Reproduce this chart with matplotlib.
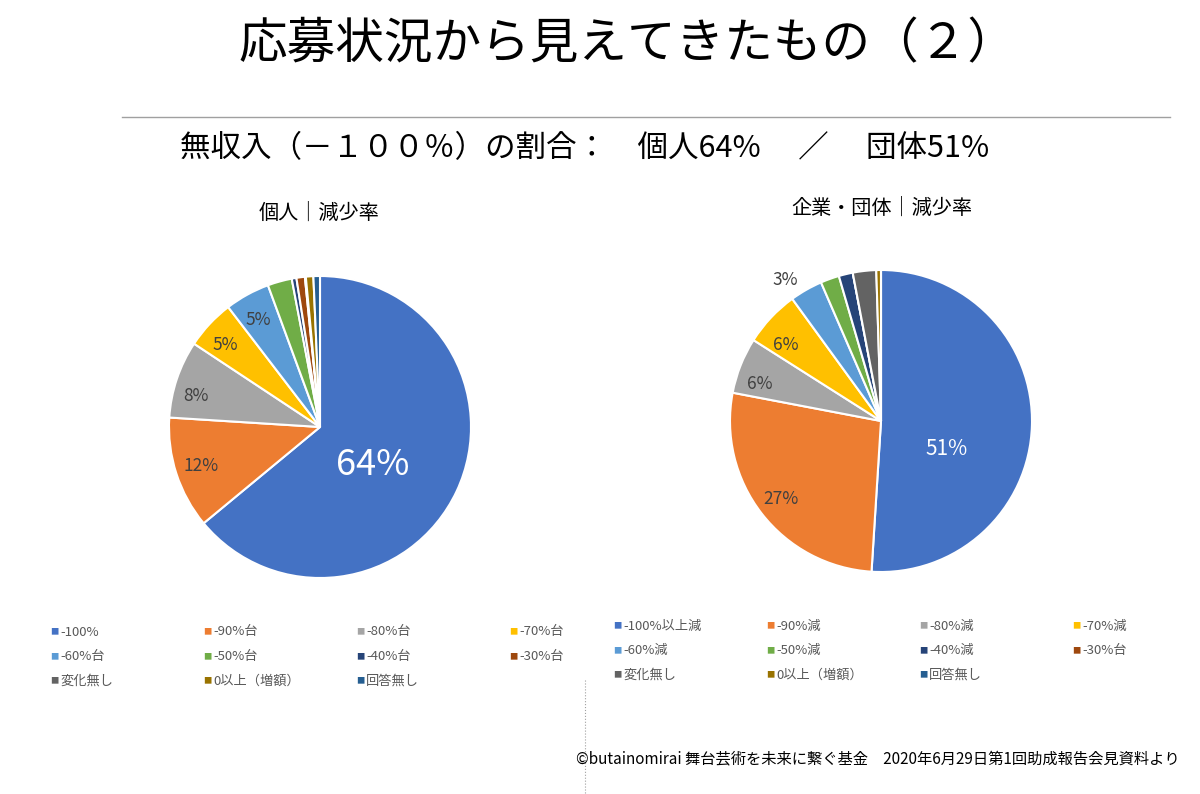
import numpy as np
import matplotlib.pyplot as plt

plt.rcParams["font.family"] = ["Noto Sans CJK JP", "DejaVu Sans"]

colors = ["#4472C4", "#ED7D31", "#A5A5A5", "#FFC000", "#5B9BD5", "#70AD47",
          "#264478", "#9E480E", "#636363", "#997300", "#255E91"]

# 個人
left_labels = ["-100%", "-90%台", "-80%台", "-70%台", "-60%台", "-50%台",
               "-40%台", "-30%台", "変化無し", "0以上（増額）", "回答無し"]
left_values = [64, 12, 8.3, 5.3, 4.8, 2.6, 0.5, 0.9, 0.1, 0.8, 0.7]
left_texts = ["64%", "12%", "8%", "5%", "5%", "", "", "", "", "", ""]

# 企業・団体
right_labels = ["-100%以上減", "-90%減", "-80%減", "-70%減", "-60%減", "-50%減",
                "-40%減", "-30%台", "変化無し", "0以上（増額）", "回答無し"]
right_values = [51, 27, 6, 6, 3.5, 2, 1.5, 0, 2.5, 0.5, 0]
right_texts = ["51%", "27%", "6%", "6%", "3%", "", "", "", "", "", ""]

W, H = 1200, 794
fig = plt.figure(figsize=(12, 7.94), dpi=100)


def fx(x):
    return x / W


def fy(y):
    return 1 - y / H


def draw_pie(cx, cy, r, values, texts, dists, shifts, sizes, tcolors):
    ax = fig.add_axes([fx(cx - 1.3 * r), fy(cy + 1.3 * r), 2.6 * r / W, 2.6 * r / H])
    wedges, _ = ax.pie(values, colors=colors, startangle=90, counterclock=False,
                       wedgeprops=dict(edgecolor="white", linewidth=1.5))
    ax.set_xlim(-1.3, 1.3)
    ax.set_ylim(-1.3, 1.3)
    ax.axis("off")
    for w, t, d, sh, s, c in zip(wedges, texts, dists, shifts, sizes, tcolors):
        if not t:
            continue
        ang = np.deg2rad((w.theta1 + w.theta2) / 2 + sh)
        ax.text(d * np.cos(ang), d * np.sin(ang), t, ha="center", va="center",
                fontsize=s, color=c)


draw_pie(320, 427, 151, left_values, left_texts,
         [0.43, 0.83, 0.85, 0.83, 0.82], [-11, 0, 4.5, 2, 1],
         [26, 12.5, 12.5, 12.5, 12.5],
         ["white", "#404040", "#404040", "#404040", "#404040"])
draw_pie(881, 421, 151, right_values, right_texts,
         [0.47, 0.84, 0.84, 0.81, 1.13], [-21, 0, 4.5, 4.5, 4.5],
         [15, 12.5, 12.5, 12.5, 12.5],
         ["white", "#404040", "#404040", "#404040", "#404040"])

# titles
fig.text(fx(628), fy(45), "応募状況から見えてきたもの（２）", ha="center", va="center",
         fontsize=35, color="black")
fig.add_artist(plt.Line2D([fx(122), fx(1170)], [fy(117), fy(117)],
                          color="#A0A0A0", linewidth=1))
fig.text(fx(585), fy(149), "無収入（－１００％）の割合：　個人64%　 ／　 団体51%",
         ha="center", va="center", fontsize=22, color="black")
fig.text(fx(319), fy(213), "個人｜減少率", ha="center", va="center", fontsize=14.5)
fig.text(fx(882), fy(208), "企業・団体｜減少率", ha="center", va="center", fontsize=14.5)


def draw_legend(x0, y0, labels):
    for i, lab in enumerate(labels):
        col = i % 4
        row = i // 4
        x = x0 + col * 153
        y = y0 + row * 24.5
        fig.text(fx(x), fy(y), "■", ha="left", va="center", fontsize=6,
                 color=colors[i])
        fig.text(fx(x + 10), fy(y), lab, ha="left", va="center", fontsize=9.5,
                 color="#595959")


draw_legend(50, 632, left_labels)
draw_legend(613, 626, right_labels)

fig.add_artist(plt.Line2D([fx(585), fx(585)], [fy(680), fy(794)],
                          color="#A0A0A0", linewidth=0.8, linestyle=":"))

fig.text(fx(1180), fy(759),
         "©butainomirai 舞台芸術を未来に繋ぐ基金　2020年6月29日第1回助成報告会見資料より",
         ha="right", va="center", fontsize=11, color="black")

fig.savefig("out.png", dpi=100, facecolor="white")
